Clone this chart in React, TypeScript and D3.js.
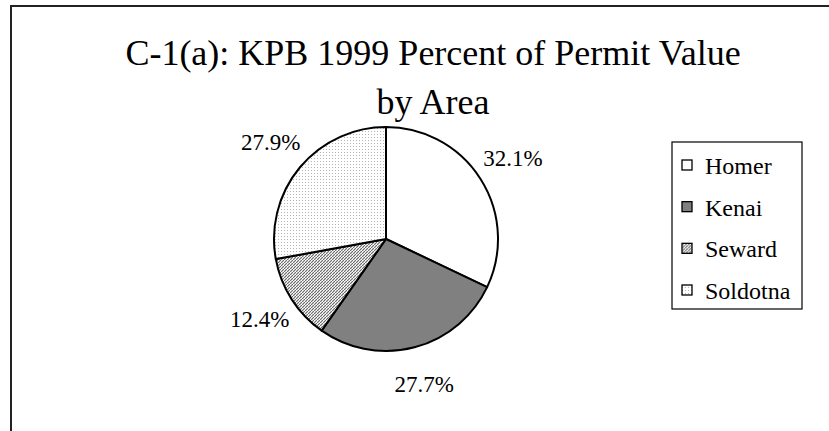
import React, { useEffect, useRef } from 'react'
import * as d3 from 'd3'

// chart data
const areas = ['Homer', 'Kenai', 'Seward', 'Soldotna']
const shares = [32.1, 27.7, 12.4, 27.9]
const fills = ['#ffffff', '#808080', 'url(#hatchSeward)', 'url(#dotsSoldotna)']
const titleLines = ['C-1(a):  KPB 1999 Percent of Permit Value', 'by Area']

const W = 829
const H = 431

export default function App() {
  const ref = useRef<SVGSVGElement>(null)

  useEffect(() => {
    const svg = d3.select(ref.current!)
    svg.selectAll('*').remove()
    const font = '"Liberation Serif", "Times New Roman", serif'

    // fill patterns
    const defs = svg.append('defs')
    const hatch = defs.append('pattern')
      .attr('id', 'hatchSeward')
      .attr('width', 3).attr('height', 3)
      .attr('patternUnits', 'userSpaceOnUse')
    hatch.append('rect').attr('width', 3).attr('height', 3).attr('fill', '#ffffff')
    hatch.append('path').attr('d', 'M0,3 L3,0').attr('stroke', '#6a6a6a').attr('stroke-width', 1.2)
    const dots = defs.append('pattern')
      .attr('id', 'dotsSoldotna')
      .attr('width', 3).attr('height', 3)
      .attr('patternUnits', 'userSpaceOnUse')
    dots.append('rect').attr('width', 3).attr('height', 3).attr('fill', '#ffffff')
    dots.append('rect').attr('x', 0).attr('y', 0).attr('width', 1).attr('height', 1).attr('fill', '#b4b4b4')

    svg.append('rect').attr('width', W).attr('height', H).attr('fill', '#ffffff')

    // chart frame (runs off right/bottom)
    svg.append('rect')
      .attr('x', 11).attr('y', 6)
      .attr('width', W + 40).attr('height', H + 20)
      .attr('fill', 'none').attr('stroke', '#222').attr('stroke-width', 2)

    // title, centred on the whole chart area
    svg.append('g').selectAll('text')
      .data(titleLines)
      .enter()
      .append('text')
      .attr('x', 433)
      .attr('y', (_d, i) => 65 + i * 49)
      .attr('text-anchor', 'middle')
      .style('font-family', font)
      .style('font-size', '36px')
      .attr('fill', '#000')
      .text(d => d)

    // pie
    const cx = 386, cy = 239, r = 112
    const data = areas.map((name, i) => ({ name, value: shares[i], fill: fills[i] }))
    const pie = d3.pie<typeof data[0]>().sort(null).value(d => d.value)
    const arcs = pie(data)
    const arc = d3.arc<d3.PieArcDatum<typeof data[0]>>().innerRadius(0).outerRadius(r)
    const labelArc = d3.arc<d3.PieArcDatum<typeof data[0]>>().innerRadius(r * 1.34).outerRadius(r * 1.34)

    const g = svg.append('g').attr('transform', `translate(${cx},${cy})`)
    g.selectAll('path')
      .data(arcs)
      .enter()
      .append('path')
      .attr('d', arc as any)
      .attr('fill', d => d.data.fill)
      .attr('stroke', '#000')
      .attr('stroke-width', 2)
      .attr('stroke-linejoin', 'round')

    // percentage labels outside the pie
    const fmt = d3.format('.1f')
    g.selectAll('text.lbl')
      .data(arcs)
      .enter()
      .append('text')
      .attr('class', 'lbl')
      .attr('transform', d => `translate(${labelArc.centroid(d)})`)
      .style('font-family', font)
      .style('font-size', '23px')
      .attr('text-anchor', 'middle')
      .attr('dominant-baseline', 'central')
      .attr('fill', '#000')
      .text(d => fmt(d.data.value) + '%')

    // legend
    const lx = 672, ly = 142, lw = 130, lh = 167
    const legend = svg.append('g')
    legend.append('rect')
      .attr('x', lx).attr('y', ly).attr('width', lw).attr('height', lh)
      .attr('fill', '#fff').attr('stroke', '#000').attr('stroke-width', 1.2)
    const yL = d3.scalePoint<string>().domain(areas).range([ly + 23, ly + 148])
    const items = legend.selectAll('g.item')
      .data(data)
      .enter()
      .append('g')
      .attr('transform', d => `translate(${lx + 10},${yL(d.name)})`)
    items.append('rect')
      .attr('x', 0).attr('y', -5).attr('width', 10).attr('height', 10)
      .attr('fill', d => d.fill)
      .attr('stroke', '#000').attr('stroke-width', 1.3)
    items.append('text')
      .attr('x', 23).attr('y', 1)
      .attr('dominant-baseline', 'central')
      .style('font-family', font)
      .style('font-size', '24px')
      .attr('fill', '#000')
      .text(d => d.name)
  }, [])

  return (
    <svg
      ref={ref}
      width={W}
      height={H}
      style={{ position: 'absolute', left: 0, top: 0, display: 'block' }}
    />
  )
}
